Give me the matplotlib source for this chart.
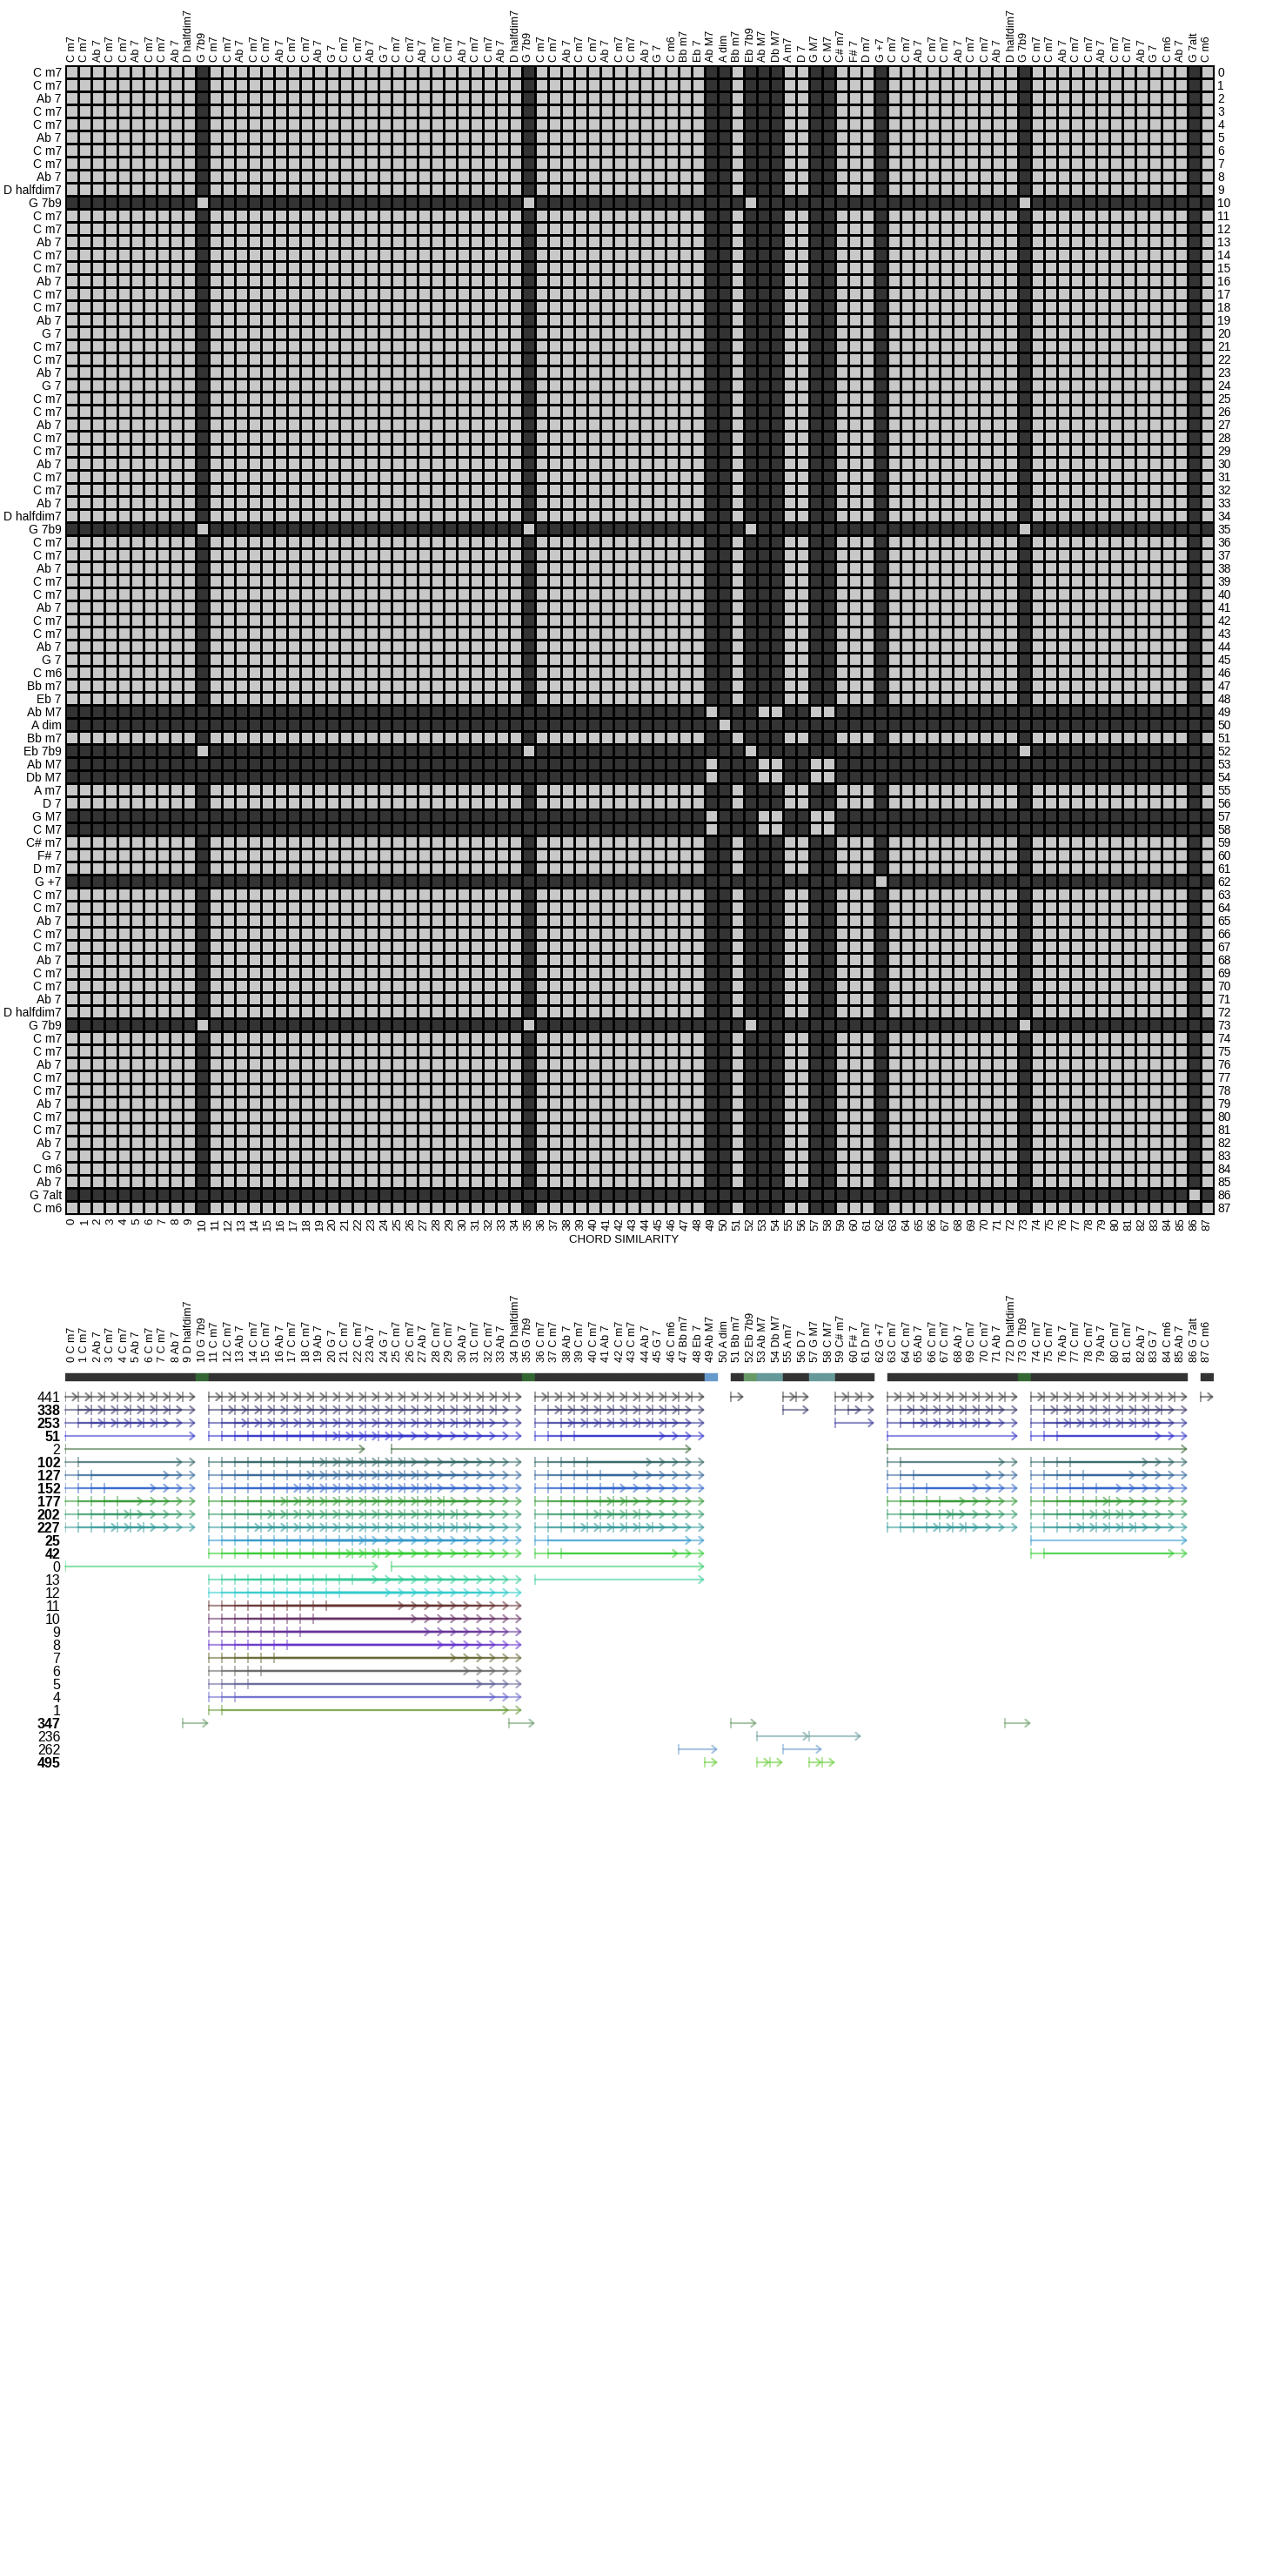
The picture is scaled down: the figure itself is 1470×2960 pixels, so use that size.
import matplotlib
matplotlib.use('Agg')
import matplotlib.pyplot as plt
import numpy as np
from matplotlib.colors import ListedColormap
from matplotlib.patches import Rectangle, ArrowStyle

# chord sequence of the tune
chords = [
    'C m7', 'C m7', 'Ab 7', 'C m7', 'C m7', 'Ab 7', 'C m7', 'C m7', 'Ab 7', 'D halfdim7',
    'G 7b9', 'C m7', 'C m7', 'Ab 7', 'C m7', 'C m7', 'Ab 7', 'C m7', 'C m7', 'Ab 7',
    'G 7', 'C m7', 'C m7', 'Ab 7', 'G 7', 'C m7', 'C m7', 'Ab 7', 'C m7', 'C m7',
    'Ab 7', 'C m7', 'C m7', 'Ab 7', 'D halfdim7', 'G 7b9', 'C m7', 'C m7', 'Ab 7', 'C m7',
    'C m7', 'Ab 7', 'C m7', 'C m7', 'Ab 7', 'G 7', 'C m6', 'Bb m7', 'Eb 7', 'Ab M7',
    'A dim', 'Bb m7', 'Eb 7b9', 'Ab M7', 'Db M7', 'A m7', 'D 7', 'G M7', 'C M7', 'C# m7',
    'F# 7', 'D m7', 'G +7', 'C m7', 'C m7', 'Ab 7', 'C m7', 'C m7', 'Ab 7', 'C m7',
    'C m7', 'Ab 7', 'D halfdim7', 'G 7b9', 'C m7', 'C m7', 'Ab 7', 'C m7', 'C m7', 'Ab 7',
    'C m7', 'C m7', 'Ab 7', 'G 7', 'C m6', 'Ab 7', 'G 7alt', 'C m6',
]
n = len(chords)

# chords in the same group are "similar" (light cell), all others dark
special_groups = {10: '7b9', 35: '7b9', 52: '7b9', 73: '7b9',
                  49: 'M7', 53: 'M7', 54: 'M7', 57: 'M7', 58: 'M7',
                  50: 'dim', 62: 'aug', 86: 'alt'}
sim_group = [special_groups.get(i, 'plain') for i in range(n)]

# colour strip above the patterns: (first chord, last chord, colour)
bar_runs = [(0, 9, '#333333'), (10, 10, '#336633'), (11, 34, '#333333'),
            (35, 35, '#336633'), (36, 48, '#333333'), (49, 49, '#6699cc'),
            (51, 51, '#333333'), (52, 52, '#669966'), (53, 54, '#669999'),
            (55, 56, '#333333'), (57, 58, '#669999'), (59, 61, '#333333'),
            (63, 72, '#333333'), (73, 73, '#336633'), (74, 85, '#333333'),
            (87, 87, '#333333')]

# patterns: id, length in chords, runs of start positions (inclusive)
pattern_ids = [441, 338, 253, 51, 2, 102, 127, 152, 177, 202, 227, 25, 42, 0,
               13, 12, 11, 10, 9, 8, 7, 6, 5, 4, 1, 347, 236, 262, 495]
pattern_bold = [False, True, True, True, False, True, True, True, True, True, True,
                True, True, False, False, False, False, False, False, False, False,
                False, False, False, False, True, False, False, True]
pattern_lengths = [1, 2, 3, 10, 23, 9, 8, 7, 6, 5, 4, 12, 11, 24,
                   13, 14, 15, 16, 17, 18, 19, 20, 21, 22, 23, 2, 4, 3, 1]
pattern_starts = [
    [(0, 9), (11, 34), (36, 48), (51, 51), (55, 56), (59, 61), (63, 72), (74, 85), (87, 87)],
    [(0, 8), (11, 33), (36, 47), (55, 55), (59, 60), (63, 71), (74, 84)],
    [(0, 7), (11, 32), (36, 46), (59, 59), (63, 70), (74, 83)],
    [(0, 0), (11, 25), (36, 39), (63, 63), (74, 76)],
    [(0, 0), (25, 25), (63, 63)],
    [(0, 1), (11, 26), (36, 40), (63, 64), (74, 77)],
    [(0, 2), (11, 27), (36, 41), (63, 65), (74, 78)],
    [(0, 3), (11, 28), (36, 42), (63, 66), (74, 79)],
    [(0, 4), (11, 29), (36, 43), (63, 67), (74, 80)],
    [(0, 5), (11, 30), (36, 44), (63, 68), (74, 81)],
    [(0, 6), (11, 31), (36, 45), (63, 69), (74, 82)],
    [(11, 23), (36, 37), (74, 74)],
    [(11, 24), (36, 38), (74, 75)],
    [(0, 0), (25, 25)],
    [(11, 22), (36, 36)],
    [(11, 21)], [(11, 20)], [(11, 19)], [(11, 18)], [(11, 17)],
    [(11, 16)], [(11, 15)], [(11, 14)], [(11, 13)], [(11, 12)],
    [(9, 9), (34, 34), (51, 51), (72, 72)],
    [(53, 53), (57, 57)],
    [(47, 47), (55, 55)],
    [(49, 49), (53, 54), (57, 58)],
]
pattern_colors = ['#333333', '#333366', '#333399', '#3333cc', '#336633', '#336666',
                  '#336699', '#3366cc', '#339933', '#339966', '#339999', '#3399cc',
                  '#33cc33', '#33cc66', '#33cc99', '#33cccc', '#663333', '#663366',
                  '#663399', '#6633cc', '#666633', '#666666', '#666699', '#6666cc',
                  '#669933', '#669966', '#669999', '#6699cc', '#66cc33']

font = ['Liberation Sans', 'DejaVu Sans']
plt.rcParams['font.family'] = font

W, H = 1470, 2960


def frac(x0, y0, x1, y1):
    return [x0 / W, 1 - y1 / H, (x1 - x0) / W, (y1 - y0) / H]


fig = plt.figure(figsize=(W / 100, H / 100), dpi=100)

# ---- similarity matrix ----
ax = fig.add_axes(frac(75, 75, 1395, 1395))
sim = np.array([[1 if a == b else 0 for b in sim_group] for a in sim_group])
ax.pcolormesh(np.arange(n + 1), np.arange(n + 1), sim,
              cmap=ListedColormap(['#333333', '#c8c8c8']),
              edgecolors='black', linewidth=1.0)
ax.set_xlim(0, n)
ax.set_ylim(n, 0)
centers = np.arange(n) + 0.5

ax.xaxis.tick_top()
ax.set_xticks(centers)
ax.set_xticklabels(chords, rotation=90, fontsize=9)
ax.set_yticks(centers)
ax.set_yticklabels(chords, fontsize=10)
ax.tick_params(length=0, pad=3)

sec_b = ax.secondary_xaxis('bottom')
sec_b.set_xticks(centers, labels=[str(i) for i in range(n)])
sec_b.tick_params(length=0, pad=3, labelrotation=90, labelsize=9.5)
sec_r = ax.secondary_yaxis('right')
sec_r.set_yticks(centers, labels=[str(i) for i in range(n)])
sec_r.tick_params(length=0, pad=3, labelsize=10)

fig.text(717 / W, 1 - 1425 / H, 'CHORD SIMILARITY', ha='center', va='center',
         fontsize=9.5)

# ---- pattern plot ----
ax2 = fig.add_axes(frac(75, 1575, 1395, 2032.5))
ax2.set_xlim(0, n)
ax2.set_ylim(28.5, -2)
for s in ax2.spines.values():
    s.set_visible(False)

ax2.xaxis.tick_top()
ax2.set_xticks(centers)
ax2.set_xticklabels([f'{i} {c}' for i, c in enumerate(chords)], rotation=90,
                    fontsize=9)
ax2.set_yticks(range(len(pattern_ids)))
ax2.set_yticklabels([str(p) for p in pattern_ids], fontsize=11.5)
for t, b in zip(ax2.get_yticklabels(), pattern_bold):
    if b:
        t.set_fontweight('bold')
ax2.tick_params(length=0)
ax2.tick_params(axis='x', pad=7)
ax2.tick_params(axis='y', pad=4)

for first, last, col in bar_runs:
    for i in range(first, last + 1):
        ax2.add_patch(Rectangle((i, -1.77), 1, 0.6, facecolor=col,
                                edgecolor=col, linewidth=0.3))

head = ArrowStyle('->', head_length=0.35, head_width=0.3)
for k, (L, runs, col) in enumerate(zip(pattern_lengths, pattern_starts, pattern_colors)):
    for a, b in runs:
        for s in range(a, b + 1):
            ax2.annotate('', xy=(s + L, k), xytext=(s, k),
                         arrowprops=dict(arrowstyle=head, color=col, alpha=0.55,
                                         lw=1.6, shrinkA=0, shrinkB=0))
            ax2.plot([s], [k], marker='|', ms=8, mew=1.2, color=col, alpha=0.55)

fig.savefig('out.png', dpi=100, facecolor='white')
